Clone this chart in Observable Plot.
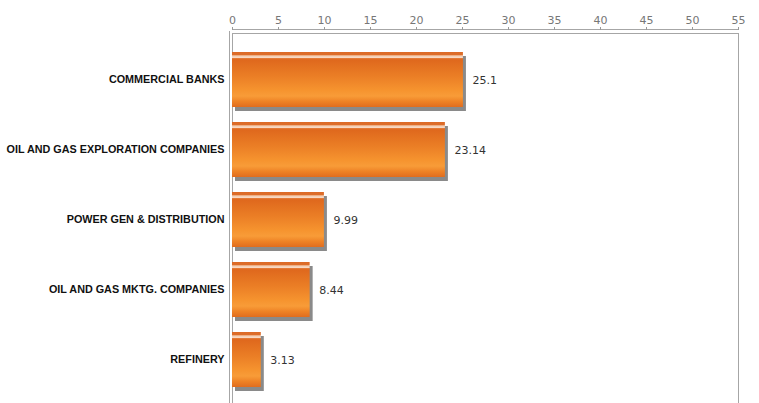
<!DOCTYPE html>
<html>
<head>
<meta charset="utf-8">
<script src="https://cdn.jsdelivr.net/npm/d3@7"></script>
<script src="https://cdn.jsdelivr.net/npm/@observablehq/plot@0.6"></script>
<style>
  html, body { margin: 0; padding: 0; background: #fff; overflow: hidden; }
</style>
</head>
<body>
<div id="chart"></div>
<script>
const sectors = [
  "COMMERCIAL BANKS",
  "OIL AND GAS EXPLORATION COMPANIES",
  "POWER GEN & DISTRIBUTION",
  "OIL AND GAS MKTG. COMPANIES",
  "REFINERY"
];
const values = [25.1, 23.14, 9.99, 8.44, 3.13];
const valueLabels = ["25.1", "23.14", "9.99", "8.44", "3.13"];
const xTicks = [0, 5, 10, 15, 20, 25, 30, 35, 40, 45, 50, 55];

const data = sectors.map((s, i) => ({sector: s, value: values[i], label: valueLabels[i]}));

const chart = Plot.plot({
  width: 759,
  height: 403,
  marginTop: 29,
  marginLeft: 232,
  marginRight: 21,
  marginBottom: 0,
  style: {background: "#fff", overflow: "visible"},
  x: {domain: [0, 55], ticks: xTicks},
  y: {domain: sectors, range: [45, 395], paddingInner: 0.21, paddingOuter: 0.1},
  marks: [
    Plot.frame({stroke: "#a6a6a6", insetTop: 4, insetBottom: -10}),
    Plot.ruleX([0], {dx: -3, insetTop: 2, insetBottom: -10, stroke: "#a6a6a6"}),
    Plot.frame({anchor: "top", stroke: "#a6a6a6"}),
    Plot.axisX({
      anchor: "top",
      ticks: xTicks,
      tickSize: 3,
      tickPadding: 3,
      stroke: "#9a9a9a",
      fill: "#777",
      fontSize: 11,
      fontFamily: "DejaVu Sans",
      label: null
    }),
    Plot.axisY({
      tickSize: 0,
      tickPadding: 8,
      fontSize: 10.8,
      fontWeight: "bold",
      fontFamily: "Liberation Sans, Arial, sans-serif",
      fill: "#111",
      label: null
    }),
    Plot.barX(data, {x: "value", y: "sector", fill: "#8a8a8a", dx: 3, dy: 4}),
    Plot.barX(data, {x: "value", y: "sector", fill: "url(#barGrad)"}),
    Plot.text(data, {
      x: "value", y: "sector", text: "label",
      dx: 9, textAnchor: "start",
      fill: "#333", fontSize: 11, fontFamily: "DejaVu Sans"
    })
  ]
});

// gradient definition for the bars
const ns = "http://www.w3.org/2000/svg";
const defs = document.createElementNS(ns, "defs");
const grad = document.createElementNS(ns, "linearGradient");
grad.setAttribute("id", "barGrad");
grad.setAttribute("x1", "0"); grad.setAttribute("y1", "0");
grad.setAttribute("x2", "0"); grad.setAttribute("y2", "1");
const stops = [
  [0, "#dc6a26"], [0.06, "#de6e2a"], [0.065, "#f3c7a8"], [0.1, "#f7d8c2"],
  [0.115, "#e57c3a"], [0.14, "#df681d"], [0.45, "#eb7f26"], [0.7, "#f6942f"],
  [0.8, "#f89c38"], [0.9, "#ee8226"], [1, "#e06d1f"]
];
for (const [o, c] of stops) {
  const s = document.createElementNS(ns, "stop");
  s.setAttribute("offset", o);
  s.setAttribute("stop-color", c);
  grad.appendChild(s);
}
defs.appendChild(grad);
chart.insertBefore(defs, chart.firstChild);

document.getElementById("chart").appendChild(chart);
</script>
</body>
</html>
